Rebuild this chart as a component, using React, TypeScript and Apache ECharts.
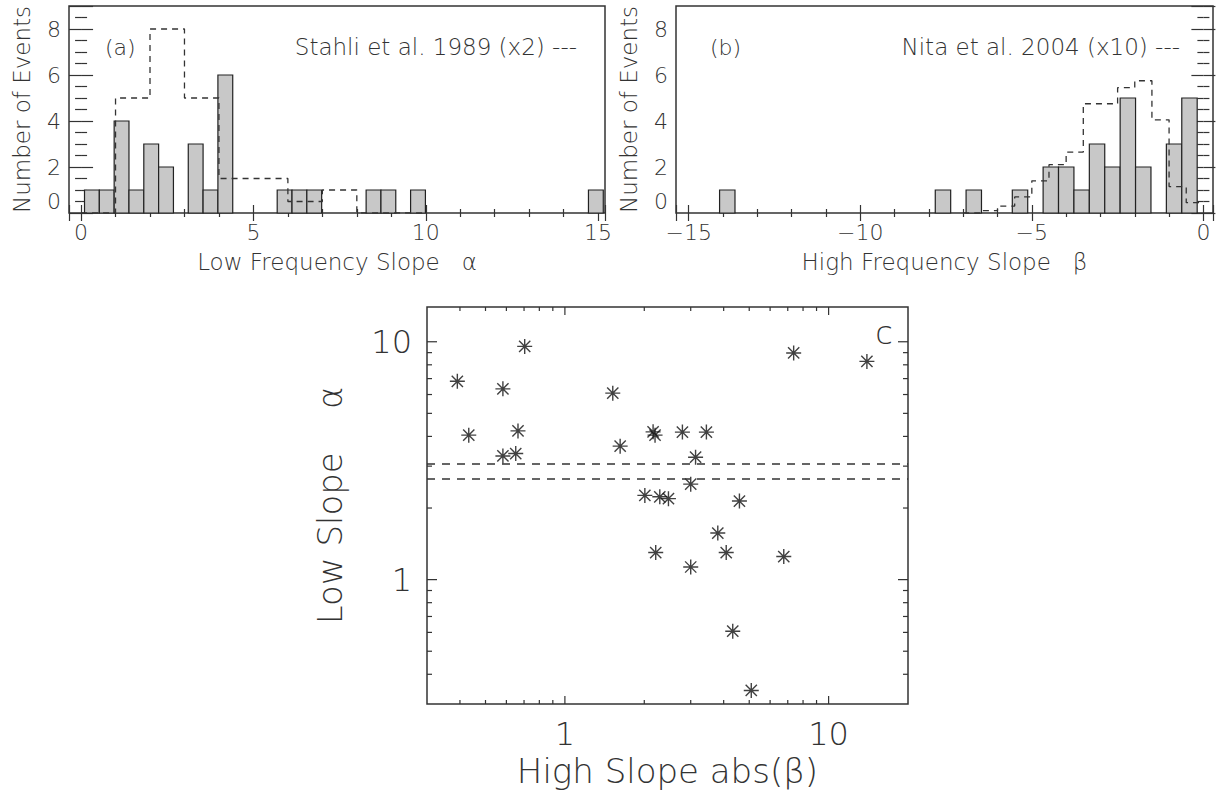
import React, { useEffect, useRef } from 'react';
import * as echarts from 'echarts';

// ---------- Panel (a): low-frequency slope alpha histogram ----------
const A_BIN_START = 0.1;
const A_BIN_WIDTH = 0.43;
const A_COUNTS = [1, 1, 4, 1, 3, 2, 0, 3, 1, 6, 0, 0, 0, 1, 1, 1, 0, 0, 0, 1, 1, 0, 1, 0, 0, 0, 0, 0, 0, 0, 0, 0, 0, 0, 1];
// Stahli et al. 1989 (x2) dashed histogram
const STAHLI_EDGES = [0, 1, 2, 3, 4, 5, 6, 7, 8, 9, 10];
const STAHLI_X2 = [0, 5, 8, 5, 1.5, 1.5, 0.5, 1, 0, 0];

// ---------- Panel (b): high-frequency slope beta histogram ----------
const B_BIN_START = -14.1;
const B_BIN_WIDTH = 0.449;
const B_COUNTS = [1, 0, 0, 0, 0, 0, 0, 0, 0, 0, 0, 0, 0, 0, 1, 0, 1, 0, 0, 1, 0, 2, 2, 1, 3, 2, 5, 2, 0, 3, 5];
// Nita et al. 2004 (x10) dashed histogram
const NITA_EDGES = [-7, -6.5, -6, -5.5, -5, -4.5, -4, -3.5, -3, -2.5, -2, -1.5, -1, -0.5, 0];
const NITA_X10 = [0, 0.1, 0.3, 0.7, 1.4, 2.1, 2.65, 4.75, 4.75, 5.45, 5.75, 4.05, 1.15, 0.45];

// ---------- Panel (c): scatter ----------
const BETA_ABS = [0.391, 0.432, 0.582, 0.704, 0.582, 0.651, 0.664, 1.519, 1.62, 2.16, 2.197, 2.79, 3.44, 3.13, 3.0, 7.37, 13.97, 2.01, 2.29, 2.47, 4.59, 3.8, 2.21, 4.09, 3.0, 6.76, 4.33, 5.09];
const ALPHA = [6.82, 4.05, 6.34, 9.56, 3.31, 3.39, 4.22, 6.08, 3.64, 4.18, 4.05, 4.17, 4.17, 3.27, 2.52, 8.97, 8.27, 2.26, 2.23, 2.19, 2.14, 1.57, 1.3, 1.3, 1.13, 1.25, 0.607, 0.342];
const MEAN_ALPHA_LINES = [3.08, 2.66];

// log-axis tick values for panel (c)
const C_MAJOR = [1, 10];
const C_MINOR_X = [0.4, 0.5, 0.6, 0.7, 0.8, 0.9, 2, 3, 4, 5, 6, 7, 8, 9];
const C_MINOR_Y = [0.4, 0.5, 0.6, 0.7, 0.8, 0.9, 2, 3, 4, 5, 6, 7, 8, 9];

const FONT = '"DejaVu Sans", "Liberation Sans", sans-serif';
const FW = 200;
const TXT = '#333';
const LINE = '#333';
const ASTERISK = 'path://M0,-10L0,10M-10,0L10,0M-7.5,-7.5L7.5,7.5M-7.5,7.5L7.5,-7.5';
const GAP3 = '\u00a0\u00a0\u00a0';
const GAP4 = '\u00a0\u00a0\u00a0\u00a0';

const minus = (v: number) => String(v).replace('-', '\u2212');

function bins(start: number, width: number, counts: number[]) {
  const out: number[][] = [];
  counts.forEach((c, i) => {
    if (c > 0) out.push([start + i * width, start + (i + 1) * width, c]);
  });
  return out;
}

function steps(edges: number[], vals: number[]) {
  const d: number[][] = vals.map((v, i) => [edges[i], v]);
  d.push([edges[edges.length - 1], vals[vals.length - 1]]);
  return d;
}

const barRender = (params: any, api: any) => {
  const p0 = api.coord([api.value(0), 0]);
  const p1 = api.coord([api.value(1), api.value(2)]);
  return {
    type: 'rect',
    shape: { x: p0[0], y: p1[1], width: p1[0] - p0[0], height: p0[1] - p1[1] },
    style: { fill: '#c8c8c8', stroke: '#222', lineWidth: 1.2 },
  };
};

const tickRender = (params: any, api: any) => {
  const cs = params.coordSys;
  const isY = api.value(2) === 1;
  const major = api.value(3) === 1;
  const p = api.coord([api.value(0), api.value(1)]);
  const st = { stroke: LINE, lineWidth: 1.2 };
  if (!isY) {
    const len = major ? 8 : 4;
    const b = cs.y + cs.height;
    return {
      type: 'group',
      children: [
        { type: 'line', shape: { x1: p[0], y1: b, x2: p[0], y2: b - len }, style: st },
        { type: 'line', shape: { x1: p[0], y1: cs.y, x2: p[0], y2: cs.y + len }, style: st },
      ],
    };
  }
  const len = major ? 10 : 5;
  const r = cs.x + cs.width;
  return {
    type: 'group',
    children: [
      { type: 'line', shape: { x1: cs.x, y1: p[1], x2: cs.x + len, y2: p[1] }, style: st },
      { type: 'line', shape: { x1: r, y1: p[1], x2: r - len, y2: p[1] }, style: st },
    ],
  };
};

function histXAxis(gridIndex: number, min: number, max: number, name: string, top: boolean) {
  return {
    gridIndex,
    type: 'value',
    min,
    max,
    splitNumber: 3,
    position: top ? 'top' : 'bottom',
    axisLine: { show: false },
    splitLine: { show: false },
    axisTick: { inside: true, length: 8, lineStyle: { color: LINE, width: 1.2 } },
    minorTick: { show: true, splitNumber: 5, length: 4, lineStyle: { color: LINE, width: 1.2 } },
    axisLabel: top
      ? { show: false }
      : {
          show: true,
          showMinLabel: false,
          showMaxLabel: false,
          margin: 8,
          fontSize: 22,
          fontFamily: FONT,
          fontWeight: FW,
          color: TXT,
          formatter: (v: number) => minus(v),
        },
    name: top ? '' : name,
    nameLocation: 'middle',
    nameGap: 37,
    nameTextStyle: { fontSize: 23, fontFamily: FONT, fontWeight: FW, color: TXT },
  };
}

function histYAxis(gridIndex: number, right: boolean) {
  return {
    gridIndex,
    type: 'value',
    min: 0,
    max: 9,
    interval: 2,
    position: right ? 'right' : 'left',
    axisLine: { show: false },
    splitLine: { show: false },
    axisTick: { inside: true, length: 12, lineStyle: { color: LINE, width: 1.2 } },
    minorTick: { show: true, splitNumber: 4, length: 6, lineStyle: { color: LINE, width: 1.2 } },
    axisLabel: right
      ? { show: false }
      : {
          show: true,
          showMaxLabel: false,
          margin: 8,
          fontSize: 22,
          fontFamily: FONT,
          fontWeight: FW,
          color: TXT,
          formatter: (v: number) => (v === 0 ? '{z|0}' : String(v)),
          rich: { z: { fontSize: 22, fontFamily: FONT, fontWeight: FW, color: TXT, padding: [0, 0, 23, 0] } },
        },
    name: right ? '' : 'Number of Events',
    nameLocation: 'middle',
    nameGap: 36,
    nameTextStyle: { fontSize: 23, fontFamily: FONT, fontWeight: FW, color: TXT },
  };
}

const cTicks: number[][] = [
  ...C_MAJOR.map((v) => [v, 1, 0, 1]),
  ...C_MINOR_X.map((v) => [v, 1, 0, 0]),
  ...C_MAJOR.map((v) => [1, v, 1, 1]),
  ...C_MINOR_Y.map((v) => [1, v, 1, 0]),
];

const textEl = (text: string, x: number, y: number, align: string, size: number) => ({
  type: 'text',
  x,
  y,
  silent: true,
  style: {
    text,
    fontSize: size,
    fontFamily: FONT,
    fontWeight: FW,
    fill: TXT,
    textAlign: align,
    textVerticalAlign: 'middle',
  },
});

const option: any = {
  animation: false,
  backgroundColor: '#fff',
  grid: [
    { left: 69, top: 6, width: 536, height: 207, show: true, borderColor: LINE, borderWidth: 1.5, backgroundColor: 'transparent' },
    { left: 676, top: 6, width: 537, height: 207, show: true, borderColor: LINE, borderWidth: 1.5, backgroundColor: 'transparent' },
    { left: 427, top: 307, width: 481, height: 397, show: true, borderColor: LINE, borderWidth: 1.5, backgroundColor: 'transparent' },
  ],
  xAxis: [
    histXAxis(0, -0.35, 15.2, 'Low Frequency Slope' + GAP3 + '\u03b1', false),
    histXAxis(0, -0.35, 15.2, '', true),
    histXAxis(1, -15.37, 0.28, 'High Frequency Slope' + GAP3 + '\u03b2', false),
    histXAxis(1, -15.37, 0.28, '', true),
    {
      gridIndex: 2,
      type: 'log',
      logBase: 10,
      min: 0.3,
      max: 20,
      axisLine: { show: false },
      splitLine: { show: false },
      axisTick: { show: false },
      axisLabel: {
        showMinLabel: false,
        showMaxLabel: false,
        margin: 17,
        fontSize: 32,
        lineHeight: 26,
        fontFamily: FONT,
        fontWeight: FW,
        color: TXT,
      },
      name: 'High Slope abs(\u03b2)',
      nameLocation: 'middle',
      nameGap: 53,
      nameTextStyle: { fontSize: 34, lineHeight: 28, fontFamily: FONT, fontWeight: FW, color: TXT },
    },
  ],
  yAxis: [
    histYAxis(0, false),
    histYAxis(0, true),
    histYAxis(1, false),
    histYAxis(1, true),
    {
      gridIndex: 2,
      type: 'log',
      logBase: 10,
      min: 0.3,
      max: 14,
      axisLine: { show: false },
      splitLine: { show: false },
      axisTick: { show: false },
      axisLabel: { showMinLabel: false, showMaxLabel: false, margin: 15, fontSize: 32, fontFamily: FONT, fontWeight: FW, color: TXT },
      name: 'Low Slope' + GAP4 + '\u03b1',
      nameLocation: 'middle',
      nameGap: 80,
      nameTextStyle: { fontSize: 34, fontFamily: FONT, fontWeight: FW, color: TXT },
    },
  ],
  series: [
    {
      type: 'custom',
      xAxisIndex: 0,
      yAxisIndex: 0,
      renderItem: barRender,
      encode: { x: [0, 1], y: 2 },
      data: bins(A_BIN_START, A_BIN_WIDTH, A_COUNTS),
      silent: true,
    },
    {
      type: 'line',
      xAxisIndex: 0,
      yAxisIndex: 0,
      step: 'end',
      symbol: 'none',
      lineStyle: { color: LINE, width: 1.3, type: [6, 5] },
      data: steps(STAHLI_EDGES, STAHLI_X2),
      silent: true,
    },
    {
      type: 'custom',
      xAxisIndex: 2,
      yAxisIndex: 2,
      renderItem: barRender,
      encode: { x: [0, 1], y: 2 },
      data: bins(B_BIN_START, B_BIN_WIDTH, B_COUNTS),
      silent: true,
    },
    {
      type: 'line',
      xAxisIndex: 2,
      yAxisIndex: 2,
      step: 'end',
      symbol: 'none',
      lineStyle: { color: LINE, width: 1.3, type: [6, 5] },
      data: steps(NITA_EDGES, NITA_X10),
      silent: true,
    },
    {
      type: 'scatter',
      xAxisIndex: 4,
      yAxisIndex: 4,
      symbol: ASTERISK,
      symbolSize: 15,
      itemStyle: { color: '#111', borderColor: '#111', borderWidth: 1.4 },
      data: BETA_ABS.map((b, i) => [b, ALPHA[i]]),
      markLine: {
        silent: true,
        symbol: ['none', 'none'],
        label: { show: false },
        lineStyle: { color: LINE, width: 1.6, type: [8, 7] },
        data: MEAN_ALPHA_LINES.map((v) => ({ yAxis: v })),
      },
    },
    {
      type: 'custom',
      xAxisIndex: 4,
      yAxisIndex: 4,
      renderItem: tickRender,
      encode: { x: 0, y: 1 },
      data: cTicks,
      silent: true,
      clip: false,
    },
  ],
  graphic: [
    textEl('(a)', 105, 47, 'left', 22),
    textEl('Stahli et al. 1989 (x2) ---', 577, 47, 'right', 23),
    textEl('(b)', 710, 47, 'left', 22),
    textEl('Nita et al. 2004 (x10) ---', 1180, 47, 'right', 23),
    textEl('c', 884, 333, 'center', 32),
  ],
};

export default function App() {
  const ref = useRef<HTMLDivElement>(null);
  useEffect(() => {
    if (!ref.current) return;
    const chart = echarts.init(ref.current, null, { renderer: 'svg' });
    chart.setOption(option);
    return () => chart.dispose();
  }, []);
  return (
    <div
      ref={ref}
      style={{ position: 'fixed', left: 0, top: 0, width: 1219, height: 796, background: '#fff' }}
    />
  );
}
